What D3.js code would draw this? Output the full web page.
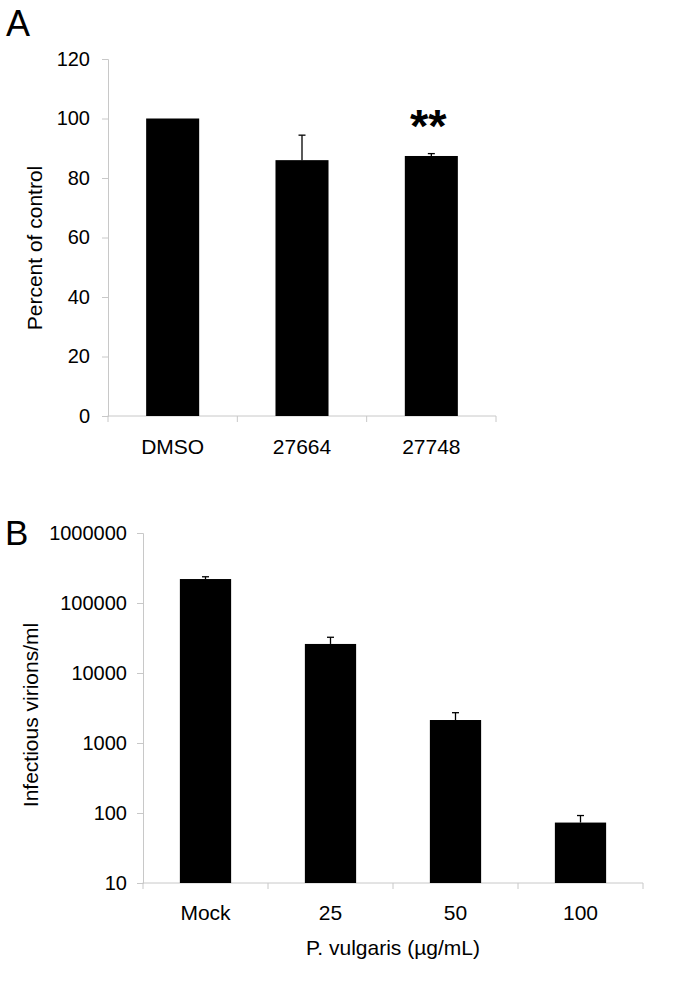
<!DOCTYPE html>
<html>
<head>
<meta charset="utf-8">
<script src="https://cdn.jsdelivr.net/npm/d3@7"></script>
<style>
  body { margin: 0; background: #fff; }
  svg text { font-family: "Liberation Sans", Arial, sans-serif; fill: #000; }
</style>
</head>
<body>
<div id="chart"></div>
<script>
// DATA
const catsA = ['DMSO', '27664', '27748'];
const valsA = [100, 86, 87.4];
const errsA = [0, 8.4, 0.8];
const ticksA = [0, 20, 40, 60, 80, 100, 120];

const catsB = ['Mock', '25', '50', '100'];
const valsB = [220000, 26000, 2130, 73];
const errsB = [17000, 6400, 580, 19];
const ticksB = [10, 100, 1000, 10000, 100000, 1000000];

const width = 685,
  height = 986,
  axisColor = '#c8c8c8';

const svg = d3
  .select('#chart')
  .append('svg')
  .attr('width', width)
  .attr('height', height);

// draws one bar panel, returns the band scale
function panel(opts) {
  const { cats, vals, errs, ticks, x0, x1, yScale, labelPad, tickPad } = opts;
  const g = svg.append('g');
  const y0 = yScale.range()[0];

  const xScale = d3.scaleBand().domain(cats).range([x0, x1]).padding(0);
  const barW = xScale.bandwidth() * 0.41;

  // y axis
  const yAxis = d3
    .axisLeft(yScale)
    .tickValues(ticks)
    .tickSize(6)
    .tickPadding(tickPad)
    .tickFormat(d3.format('d'));
  const ya = g.append('g').attr('transform', `translate(${x0},0)`).call(yAxis);
  ya.select('.domain').attr('stroke', axisColor);
  ya.selectAll('.tick line').attr('stroke', axisColor);
  ya.selectAll('.tick text').attr('font-size', 20);

  // x axis line + ticks at category boundaries
  g.append('line')
    .attr('x1', x0 - 0.5)
    .attr('x2', x1)
    .attr('y1', y0)
    .attr('y2', y0)
    .attr('stroke', axisColor);
  g.selectAll('.xtick')
    .data(cats.concat(['end']))
    .join('line')
    .attr('class', 'xtick')
    .attr('x1', (d, i) => x0 + i * xScale.step())
    .attr('x2', (d, i) => x0 + i * xScale.step())
    .attr('y1', y0)
    .attr('y2', y0 + 6)
    .attr('stroke', axisColor);

  // category labels
  const xAxis = d3.axisBottom(xScale).tickSize(0).tickPadding(labelPad);
  const xa = g.append('g').attr('transform', `translate(0,${y0})`).call(xAxis);
  xa.select('.domain').remove();
  xa.selectAll('.tick text').attr('font-size', 21);

  // bars
  g.selectAll('.bar')
    .data(cats)
    .join('rect')
    .attr('class', 'bar')
    .attr('x', d => xScale(d) + (xScale.bandwidth() - barW) / 2)
    .attr('width', barW)
    .attr('y', (d, i) => yScale(vals[i]))
    .attr('height', (d, i) => y0 - yScale(vals[i]))
    .attr('fill', '#000');

  // error bars (only upper half shows above the bar)
  const eb = g
    .selectAll('.err')
    .data(cats.filter((d, i) => errs[i] > 0))
    .join('g')
    .attr('class', 'err');
  const cx = d => xScale(d) + xScale.bandwidth() / 2;
  const top = d => yScale(vals[cats.indexOf(d)] + errs[cats.indexOf(d)]);
  eb.append('line')
    .attr('x1', cx)
    .attr('x2', cx)
    .attr('y1', d => yScale(vals[cats.indexOf(d)]))
    .attr('y2', top)
    .attr('stroke', '#000')
    .attr('stroke-width', 1.3);
  eb.append('line')
    .attr('x1', d => cx(d) - 3.5)
    .attr('x2', d => cx(d) + 3.5)
    .attr('y1', top)
    .attr('y2', top)
    .attr('stroke', '#000')
    .attr('stroke-width', 1.3);

  return xScale;
}

// PANEL A
const yA = d3.scaleLinear().domain([0, 120]).range([416, 59]);
const xA = panel({
  cats: catsA,
  vals: valsA,
  errs: errsA,
  ticks: ticksA,
  x0: 108,
  x1: 496,
  yScale: yA,
  labelPad: 23,
  tickPad: 12,
});

svg.append('text')
  .attr('x', 6)
  .attr('y', 36)
  .attr('font-size', 36)
  .text('A');

svg.append('text')
  .attr('transform', 'translate(42,248) rotate(-90)')
  .attr('text-anchor', 'middle')
  .attr('font-size', 21)
  .text('Percent of control');

// significance marker over 27748
svg.append('text')
  .attr('x', xA('27748') + xA.bandwidth() / 2 - 3)
  .attr('y', 142)
  .attr('text-anchor', 'middle')
  .attr('font-size', 47)
  .attr('font-weight', 'bold')
  .text('**');

// PANEL B
const yB = d3.scaleLog().domain([10, 1000000]).range([883, 533]);
panel({
  cats: catsB,
  vals: valsB,
  errs: errsB,
  ticks: ticksB,
  x0: 143,
  x1: 643,
  yScale: yB,
  labelPad: 22,
  tickPad: 10,
});

svg.append('text')
  .attr('x', 5)
  .attr('y', 545)
  .attr('font-size', 35)
  .text('B');

svg.append('text')
  .attr('transform', 'translate(38,715) rotate(-90)')
  .attr('text-anchor', 'middle')
  .attr('font-size', 21)
  .text('Infectious virions/ml');

svg.append('text')
  .attr('x', 393)
  .attr('y', 955)
  .attr('text-anchor', 'middle')
  .attr('font-size', 21)
  .text('P. vulgaris (µg/mL)');
</script>
</body>
</html>
